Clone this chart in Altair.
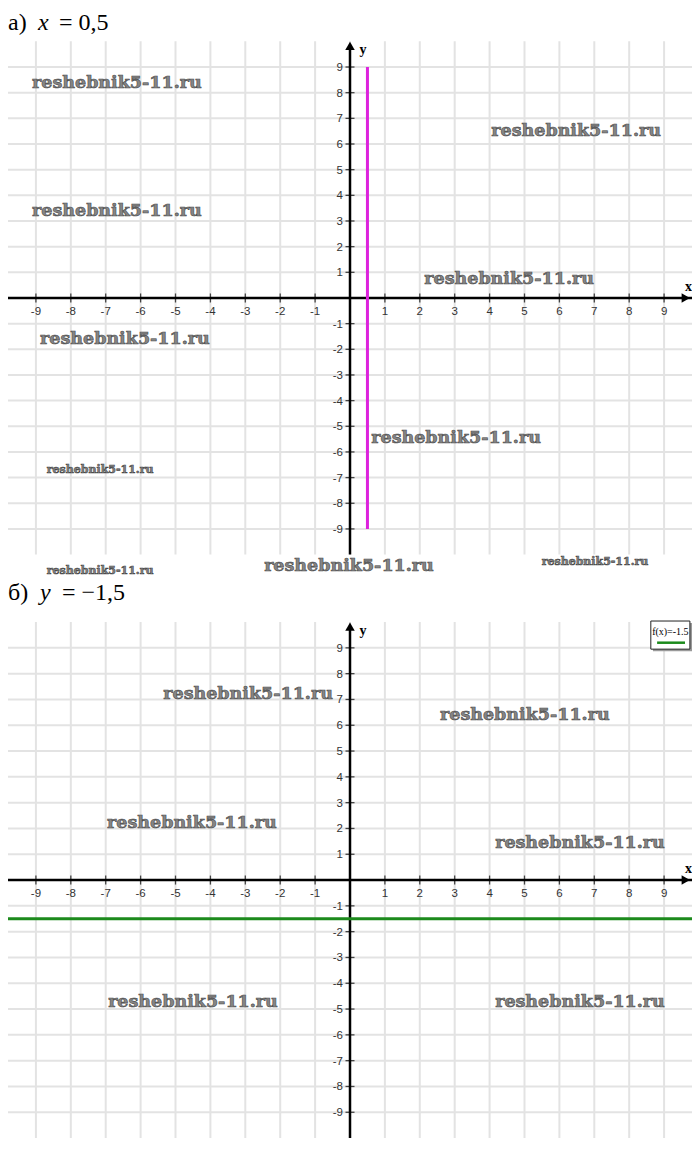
import altair as alt
import pandas as pd

# ---------------- data ----------------
X_DOMAIN = [-9.8, 9.8]
A_Y_DOMAIN = [-10.99, 11.30]
B_Y_DOMAIN = [-10.85, 11.63]

x_tick_values = [-9, -8, -7, -6, -5, -4, -3, -2, -1, 1, 2, 3, 4, 5, 6, 7, 8, 9]
x_tick_labels = ["-9", "-8", "-7", "-6", "-5", "-4", "-3", "-2", "-1",
                 "1", "2", "3", "4", "5", "6", "7", "8", "9"]
y_tick_values = [-9, -8, -7, -6, -5, -4, -3, -2, -1, 1, 2, 3, 4, 5, 6, 7, 8, 9]
y_tick_labels = ["-9", "-8", "-7", "-6", "-5", "-4", "-3", "-2", "-1",
                 "1", "2", "3", "4", "5", "6", "7", "8", "9"]
grid_values = [-9, -8, -7, -6, -5, -4, -3, -2, -1, 0, 1, 2, 3, 4, 5, 6, 7, 8, 9]
grid_extent = [-10, 10]
x_axis_extent = [-9.8, 9.8]
y_axis_extent = [-10, 9.8]
arrow_right = [9.62, 0]
arrow_up = [0, 9.82]
x_title_pos = [9.8, 0.43]
y_title_pos = [0.37, 9.66]

# panel a: x = 0.5
line_a_x = 0.5
line_a_y = [-9, 9]
heading_a_pos = [-9.8, 10.45]
# panel b: y = -1.5
line_b_y = -1.5
line_b_x = [-9.8, 9.8]
heading_b_pos = [-9.8, 10.85]

legend_box_x = [8.62, 9.74]
legend_box_y = [8.95, 10.04]
legend_shadow_x = [8.68, 9.8]
legend_shadow_y = [8.87, 9.96]
legend_text_pos = [9.18, 9.6]
legend_line_x = [8.8, 9.6]
legend_line_y = 9.2
legend_text = "f(x)=-1.5"

wm_text = "reshebnik5-11.ru"
wm_a_x = [-6.68, 6.48, -6.68, 4.56, -6.45, 3.04, -7.16, -7.16, -0.03, 7.02]
wm_a_y = [8.38, 6.51, 3.39, 0.74, -1.60, -5.45, -6.70, -10.63, -10.44, -10.28]
wm_a_kind = ["big", "big", "big", "big", "big", "big", "small", "small", "big", "small"]
wm_b_x = [-2.92, 5.01, -4.53, 6.59, -4.50, 6.59]
wm_b_y = [7.21, 6.40, 2.21, 1.43, -4.73, -4.73]
wm_b_kind = ["big", "big", "big", "big", "big", "big"]

W = 684
H_A = 572
H_B = 580


def X(field, dom=X_DOMAIN):
    return alt.X(field, type="quantitative", scale=alt.Scale(domain=dom, nice=False, zero=False), axis=None)


def Y(field, dom):
    return alt.Y(field, type="quantitative", scale=alt.Scale(domain=dom, nice=False, zero=False), axis=None)


def base_layers(ydom):
    vgrid = pd.DataFrame({"x": grid_values, "y": grid_extent[0], "y2": grid_extent[1]})
    hgrid = pd.DataFrame({"y": grid_values, "x": x_axis_extent[0], "x2": x_axis_extent[1]})
    layers = []
    layers.append(alt.Chart(vgrid).mark_rule(color="#e3e3e3", strokeWidth=2, clip=True).encode(
        x=X("x"), y=Y("y", ydom), y2="y2"))
    layers.append(alt.Chart(hgrid).mark_rule(color="#e3e3e3", strokeWidth=2, clip=True).encode(
        y=Y("y", ydom), x=X("x"), x2="x2"))
    xa = pd.DataFrame({"x": [x_axis_extent[0]], "x2": [x_axis_extent[1]], "y": [0]})
    ya = pd.DataFrame({"y": [y_axis_extent[0]], "y2": [y_axis_extent[1]], "x": [0]})
    layers.append(alt.Chart(xa).mark_rule(color="black", strokeWidth=2.5, clip=True).encode(
        x=X("x"), x2="x2", y=Y("y", ydom)))
    layers.append(alt.Chart(ya).mark_rule(color="black", strokeWidth=2.5, clip=True).encode(
        y=Y("y", ydom), y2="y2", x=X("x")))
    ar = pd.DataFrame({"x": [arrow_right[0]], "y": [arrow_right[1]]})
    au = pd.DataFrame({"x": [arrow_up[0]], "y": [arrow_up[1]]})
    layers.append(alt.Chart(ar).mark_point(shape="triangle-right", filled=True, color="black",
                                           size=90, opacity=1).encode(x=X("x"), y=Y("y", ydom)))
    layers.append(alt.Chart(au).mark_point(shape="triangle-up", filled=True, color="black",
                                           size=90, opacity=1).encode(x=X("x"), y=Y("y", ydom)))
    xt = pd.DataFrame({"x": x_tick_values, "y": 0, "label": x_tick_labels})
    yt = pd.DataFrame({"y": y_tick_values, "x": 0, "label": y_tick_labels})
    layers.append(alt.Chart(xt).mark_tick(orient="vertical", size=9, thickness=1.3, color="black").encode(
        x=X("x"), y=Y("y", ydom)))
    layers.append(alt.Chart(yt).mark_tick(orient="horizontal", size=9, thickness=1.3, color="black").encode(
        x=X("x"), y=Y("y", ydom)))
    layers.append(alt.Chart(xt).mark_text(font="Liberation Sans", fontSize=11.5, color="#333",
                                          align="center", baseline="middle", dy=14).encode(
        x=X("x"), y=Y("y", ydom), text="label:N"))
    layers.append(alt.Chart(yt).mark_text(font="Liberation Sans", fontSize=11.5, color="#333",
                                          align="right", baseline="middle", dx=-7, dy=1).encode(
        x=X("x"), y=Y("y", ydom), text="label:N"))
    xtit = pd.DataFrame({"x": [x_title_pos[0]], "y": [x_title_pos[1]], "t": ["x"]})
    ytit = pd.DataFrame({"x": [y_title_pos[0]], "y": [y_title_pos[1]], "t": ["y"]})
    layers.append(alt.Chart(xtit).mark_text(font="Liberation Serif", fontWeight="bold", fontSize=14,
                                            align="right", baseline="middle", color="black").encode(
        x=X("x"), y=Y("y", ydom), text="t:N"))
    layers.append(alt.Chart(ytit).mark_text(font="Liberation Serif", fontWeight="bold", fontSize=14,
                                            align="center", baseline="middle", color="black").encode(
        x=X("x"), y=Y("y", ydom), text="t:N"))
    return layers


def heading_layers(pos, parts, ydom):
    layers = []
    df = pd.DataFrame({"x": [pos[0]], "y": [pos[1]]})
    for text, style, dx in parts:
        layers.append(alt.Chart(df).mark_text(text=text, font="Liberation Serif", fontSize=24,
                                              fontStyle=style, align="left", baseline="alphabetic",
                                              dx=dx, color="black").encode(x=X("x"), y=Y("y", ydom)))
    return layers


def watermark_layer(xs, ys, kinds, ydom):
    df = pd.DataFrame({"x": xs, "y": ys, "kind": kinds, "t": wm_text})
    return alt.Chart(df).mark_text(font="DejaVu Serif", fontWeight="bold", color="#858585",
                                   stroke="#4a4a4a", strokeWidth=0.6, align="center",
                                   baseline="middle").encode(
        x=X("x"), y=Y("y", ydom), text="t:N",
        size=alt.Size("kind:N", scale=alt.Scale(domain=["big", "small"], range=[17.5, 11]), legend=None))


# ---------------- panel a ----------------
la = base_layers(A_Y_DOMAIN)
line_a = pd.DataFrame({"x": [line_a_x], "y": [line_a_y[0]], "y2": [line_a_y[1]]})
la.append(alt.Chart(line_a).mark_rule(color="#dd22dd", strokeWidth=3).encode(
    x=X("x"), y=Y("y", A_Y_DOMAIN), y2="y2"))
la += heading_layers(heading_a_pos, [("а)", "normal", 0), ("x", "italic", 30), ("= 0,5", "normal", 51)],
                     A_Y_DOMAIN)
la.append(watermark_layer(wm_a_x, wm_a_y, wm_a_kind, A_Y_DOMAIN))
panel_a = alt.layer(*la).properties(width=W, height=H_A)

# ---------------- panel b ----------------
lb = base_layers(B_Y_DOMAIN)
line_b = pd.DataFrame({"x": [line_b_x[0]], "x2": [line_b_x[1]], "y": [line_b_y]})
lb.append(alt.Chart(line_b).mark_rule(color="#1c8a1c", strokeWidth=3, clip=True).encode(
    x=X("x"), x2="x2", y=Y("y", B_Y_DOMAIN)))
lb += heading_layers(heading_b_pos, [("б)", "normal", 0), ("y", "italic", 32), ("= −1,5", "normal", 54)],
                     B_Y_DOMAIN)
lb.append(watermark_layer(wm_b_x, wm_b_y, wm_b_kind, B_Y_DOMAIN))
shadow = pd.DataFrame({"x": [legend_shadow_x[0]], "x2": [legend_shadow_x[1]],
                       "y": [legend_shadow_y[0]], "y2": [legend_shadow_y[1]]})
box = pd.DataFrame({"x": [legend_box_x[0]], "x2": [legend_box_x[1]],
                    "y": [legend_box_y[0]], "y2": [legend_box_y[1]]})
lb.append(alt.Chart(shadow).mark_rect(color="#9a9a9a", clip=True).encode(
    x=X("x"), x2="x2", y=Y("y", B_Y_DOMAIN), y2="y2"))
lb.append(alt.Chart(box).mark_rect(fill="white", stroke="#222", strokeWidth=1, clip=True).encode(
    x=X("x"), x2="x2", y=Y("y", B_Y_DOMAIN), y2="y2"))
lt = pd.DataFrame({"x": [legend_text_pos[0]], "y": [legend_text_pos[1]], "t": [legend_text]})
lb.append(alt.Chart(lt).mark_text(font="Liberation Serif", fontSize=10, color="black",
                                  align="center", baseline="middle").encode(
    x=X("x"), y=Y("y", B_Y_DOMAIN), text="t:N"))
ll = pd.DataFrame({"x": [legend_line_x[0]], "x2": [legend_line_x[1]], "y": [legend_line_y]})
lb.append(alt.Chart(ll).mark_rule(color="#1c8a1c", strokeWidth=2.5).encode(
    x=X("x"), x2="x2", y=Y("y", B_Y_DOMAIN)))
panel_b = alt.layer(*lb).properties(width=W, height=H_B)

chart = alt.vconcat(panel_a, panel_b, spacing=0).properties(padding=0).configure_view(
    strokeWidth=0).configure_concat(spacing=0)

chart.save("out.html", embed_options={"renderer": "svg", "actions": False})
